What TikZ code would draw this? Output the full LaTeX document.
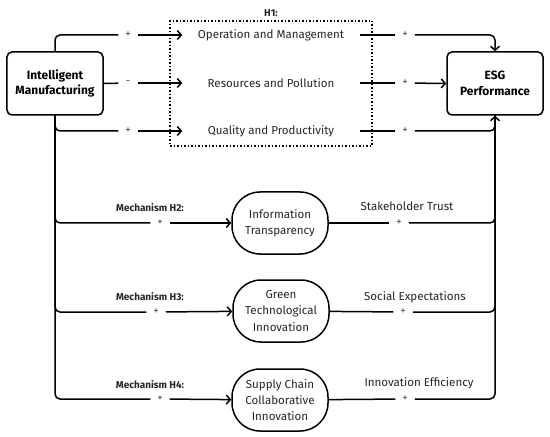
\documentclass[tikz,border=0pt]{standalone}
\usepackage{fontspec}
\setmainfont{Fira Sans}
\usetikzlibrary{arrows.meta}

\begin{document}
\begin{tikzpicture}[x=1bp, y=-1bp, line width=1.5bp, >={Straight Barb[length=4bp, width=9bp]},
    mainbox/.style={draw, rounded corners=5bp, minimum width=96bp, minimum height=63bp, align=center, font=\fontsize{12}{16}\selectfont\bfseries},
    factor/.style={minimum width=176bp, inner sep=0pt, font=\fontsize{11.6}{14}\selectfont, text=black!85},
    mediator/.style={draw, rounded corners=28bp, minimum width=96bp, minimum height=62bp, inner xsep=11bp, align=center, font=\fontsize{11.6}{16.5}\selectfont, text=black!85},
    plus/.style={inner sep=0pt, minimum width=18bp, minimum height=8bp, font=\fontsize{11}{11}\selectfont, text=black!70},
    mech/.style={font=\fontsize{10}{12}\selectfont\bfseries, text=black!85},
    channel/.style={font=\fontsize{11.6}{14}\selectfont, text=black!85}]
    \useasboundingbox (0, 0) rectangle (550, 437);

    \node [mainbox] (im) at (55, 83.5) {Intelligent\\Manufacturing};
    \node [mainbox] (esg) at (495, 83.5) {ESG\\Performance};

    \node [draw, dash pattern=on 1.5bp off 2bp, minimum width=202bp, minimum height=125bp] (h1box) at (271, 83.5) {};
    \node [mech, above] at (h1box.north) {H1:};

    \node [factor] (op) at (271, 35) {Operation and Management};
    \node [factor] (rp) at (271, 83) {Resources and Pollution};
    \node [factor] (qp) at (271, 131) {Quality and Productivity};

    \node [plus] (p1) at (128, 35) {+};
    \node [plus] (p2) at (128, 83) {-};
    \node [plus] (p3) at (128, 131) {+};
    \node [plus] (q1) at (405, 35) {+};
    \node [plus] (q2) at (405, 83) {+};
    \node [plus] (q3) at (405, 131) {+};

    \draw [rounded corners=5bp] (im.north) |- (p1);
    \draw (im.east) -- (p2);
    \draw [rounded corners=5bp] (im.south) |- (p3);
    \draw [->] (p1) -- (op);
    \draw [->] (p2) -- (rp);
    \draw [->] (p3) -- (qp);
    \draw (op) -- (q1);
    \draw (rp) -- (q2);
    \draw (qp) -- (q3);
    \draw [->, rounded corners=5bp] (q1) -| (esg.north);
    \draw [->] (q2) -- (esg.west);
    \draw [->, rounded corners=5bp] (q3) -| (esg.south);

    \node [mediator] (it) at (280, 223) {Information\\Transparency};
    \node [mediator] (gti) at (281, 311) {Green\\Technological\\Innovation};
    \node [mediator] (scci) at (280, 400) {Supply Chain\\Collaborative\\Innovation};

    \node [plus] (m2) at (160, 223) {+};
    \node [plus] (m3) at (156, 312) {+};
    \node [plus] (m4) at (160, 399) {+};
    \node [mech] at (150, 208) {Mechanism H2:};
    \node [mech] at (150, 297) {Mechanism H3:};
    \node [mech] at (150, 385) {Mechanism H4:};

    \node [plus] (s2) at (399, 223) {+};
    \node [plus] (s3) at (403, 312) {+};
    \node [plus] (s4) at (405, 399) {+};
    \node [channel] at (407, 206) {Stakeholder Trust};
    \node [channel] at (415, 297) {Social Expectations};
    \node [channel] at (419, 383) {Innovation Efficiency};

    \draw [rounded corners=5bp] (im.south) |- (m2);
    \draw [rounded corners=5bp] (im.south) |- (m3);
    \draw [rounded corners=5bp] (im.south) |- (m4);
    \draw [->] (m2) -- (it);
    \draw [->] (m3) -- (gti);
    \draw [->] (m4) -- (scci);
    \draw (it) -- (s2);
    \draw (gti) -- (s3);
    \draw (scci) -- (s4);
    \draw [rounded corners=5bp] (s2) -| (esg.south);
    \draw [rounded corners=5bp] (s3) -| (esg.south);
    \draw [rounded corners=5bp] (s4) -| (esg.south);
  \end{tikzpicture}
\end{document}
